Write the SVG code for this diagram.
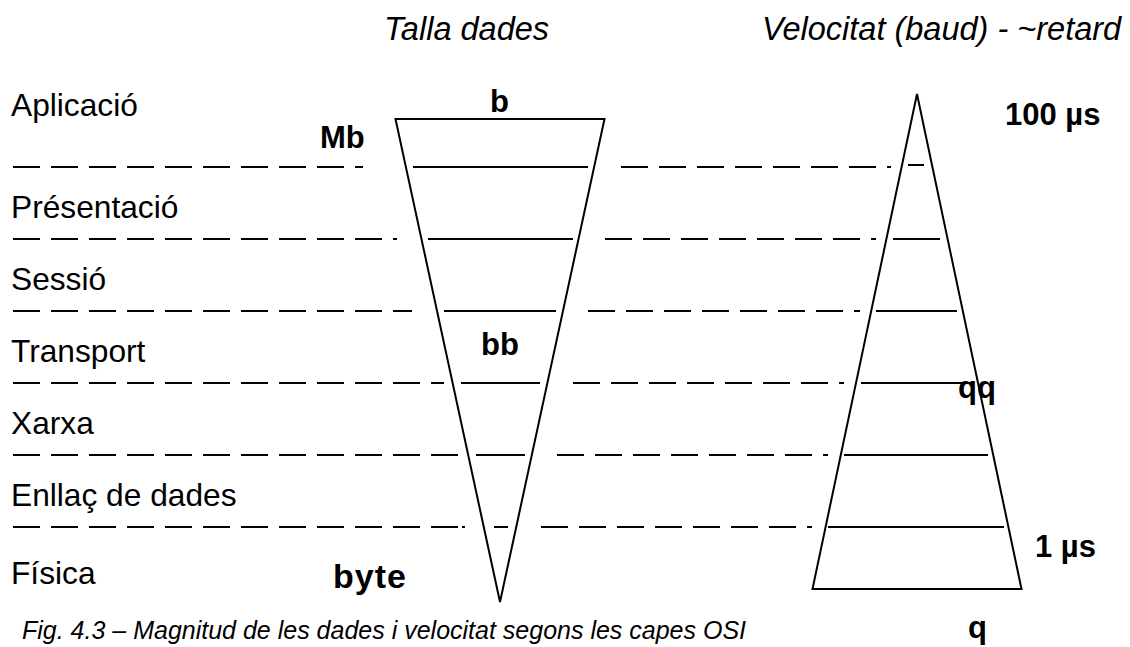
<svg xmlns="http://www.w3.org/2000/svg" width="1130" height="647" viewBox="0 0 1130 647">
  <style>
    .lbl { font-family: "Liberation Sans", Arial, sans-serif; font-size: 31.7px; fill: #000; }
    .hdr { font-family: "Liberation Sans", Arial, sans-serif; font-size: 32.5px; font-style: italic; fill: #000; }
    .val { font-family: "Liberation Sans", Arial, sans-serif; font-size: 31px; font-weight: bold; fill: #000; }
    .cap { font-family: "Liberation Sans", Arial, sans-serif; font-size: 25px; font-style: italic; fill: #000; }
    .edge { fill: none; stroke: #000; stroke-width: 2; stroke-linejoin: miter; }
    .solid { stroke: #000; stroke-width: 2; }
    .dash { stroke: #000; stroke-width: 2; stroke-dasharray: 27 11; }
  </style>

  <rect width="1130" height="647" fill="#fff"/>

  <!-- column headings -->
  <text class="hdr" x="384" y="40">Talla dades</text>
  <text class="hdr" x="762" y="40">Velocitat (baud) - ~retard</text>

  <!-- OSI layer names -->
  <g id="layers">
    <text class="lbl" x="11" y="116">Aplicació</text>
    <text class="lbl" x="11" y="218">Présentació</text>
    <text class="lbl" x="11" y="290">Sessió</text>
    <text class="lbl" x="11" y="362">Transport</text>
    <text class="lbl" x="11" y="434">Xarxa</text>
    <text class="lbl" x="11" y="506">Enllaç de dades</text>
    <text class="lbl" x="11" y="584">Física</text>
  </g>

  <!-- data size funnel -->
  <g id="size-funnel">
    <polygon class="edge" points="395.5,119 604.5,119 500,602"/>
    <line class="solid" x1="413" y1="167" x2="588" y2="167"/>
    <line class="solid" x1="428" y1="239" x2="573" y2="239"/>
    <line class="solid" x1="444" y1="311" x2="556" y2="311"/>
    <line class="solid" x1="461" y1="383" x2="540" y2="383"/>
    <line class="solid" x1="476" y1="455" x2="525" y2="455"/>
    <line class="solid" x1="494" y1="527" x2="508" y2="527"/>
    <text class="val" x="490" y="112">b</text>
    <text class="val" x="320" y="148">Mb</text>
    <text class="val" x="481" y="355">bb</text>
    <text class="val" x="333" y="588" style="font-size:34px;letter-spacing:1px">byte</text>
  </g>

  <!-- speed / delay pyramid -->
  <g id="speed-pyramid">
    <polygon class="edge" points="917,94 1021.5,589 812.5,589"/>
    <line class="solid" x1="908" y1="165" x2="924" y2="165"/>
    <line class="solid" x1="893" y1="239" x2="940" y2="239"/>
    <line class="solid" x1="876" y1="311" x2="957" y2="311"/>
    <line class="solid" x1="861" y1="383" x2="972" y2="383"/>
    <line class="solid" x1="844" y1="455" x2="988" y2="455"/>
    <line class="solid" x1="828" y1="527" x2="1004" y2="527"/>
    <text class="val" x="1005" y="125">100 µs</text>
    <text class="val" x="958" y="398">qq</text>
    <text class="val" x="1035" y="557">1 µs</text>
    <text class="val" x="968" y="638">q</text>
  </g>

  <!-- dashed layer boundaries -->
  <g id="connectors">
    <line class="dash" x1="13" y1="167" x2="363" y2="167"/>
    <line class="dash" x1="621" y1="167" x2="891" y2="167"/>

    <line class="dash" x1="13" y1="239" x2="397" y2="239"/>
    <line class="dash" x1="605" y1="239" x2="876" y2="239"/>

    <line class="dash" x1="13" y1="311" x2="412" y2="311"/>
    <line class="dash" x1="588" y1="311" x2="860" y2="311"/>

    <line class="dash" x1="13" y1="383" x2="444" y2="383"/>
    <line class="dash" x1="573" y1="383" x2="844" y2="383"/>

    <line class="dash" x1="13" y1="455" x2="460" y2="455"/>
    <line class="dash" x1="557" y1="455" x2="828" y2="455"/>

    <line class="dash" x1="13" y1="527" x2="458" y2="527"/>
    <line class="solid" x1="462" y1="527" x2="465" y2="527"/>
    <line class="dash" x1="541" y1="527" x2="812" y2="527"/>
  </g>

  <!-- caption -->
  <text class="cap" x="22" y="639">Fig. 4.3 – Magnitud de les dades i velocitat segons les capes OSI</text>
</svg>
